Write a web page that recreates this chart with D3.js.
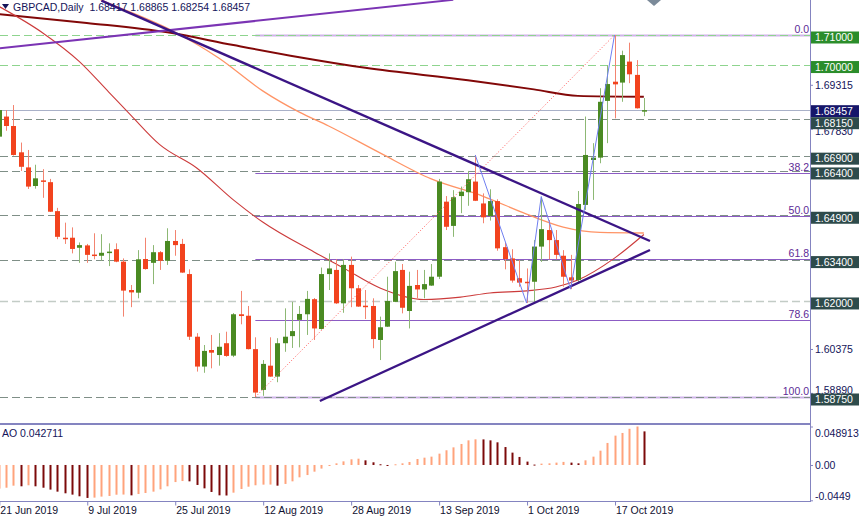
<!DOCTYPE html>
<html><head><meta charset="utf-8">
<script src="https://cdn.jsdelivr.net/npm/d3@7"></script>
<style>
html,body{margin:0;padding:0;background:#fff;}
svg{display:block;font-family:"Liberation Sans",Arial,sans-serif;}
</style></head>
<body><svg id="c" width="860" height="518"></svg>
<script>
// ---------------- DATA ----------------
const symbolTitle = "GBPCAD,Daily";
const firstDate = "2019-06-21", lastDate = "2019-10-23";
const open = [1.6756,1.6824,1.6792,1.6703,1.6652,1.6589,1.6608,1.6602,1.6504,1.6414,
 1.6414,1.6380,1.6388,1.6357,1.6353,1.6363,1.6375,1.6333,1.6237,1.6228,
 1.6342,1.6329,1.6365,1.6336,1.6403,1.6393,1.6291,1.6079,1.5978,1.6034,
 1.6017,1.6057,1.6015,1.6155,1.6150,1.6037,1.5899,1.5981,1.5944,1.6057,
 1.6081,1.6136,1.6155,1.6206,1.6105,1.6291,1.6305,1.6192,1.6322,1.6243,
 1.6184,1.6183,1.6068,1.6113,1.6197,1.6305,1.6166,1.6254,1.6239,1.6252,
 1.6282,1.6536,1.6454,1.6555,1.6568,1.6604,1.6530,1.6487,1.6538,1.6382,
 1.6344,1.6277,1.6265,1.6265,1.6384,1.6440,1.6406,1.6353,1.6280,1.6271,
 1.6525,1.6677,1.6685,1.6877,1.6942,1.6939,1.7010,1.6965,1.68417];
const high = [1.6860,1.6846,1.6863,1.6736,1.6711,1.6661,1.6646,1.6613,1.6515,1.6465,
 1.6449,1.6398,1.6393,1.6429,1.6426,1.6395,1.6395,1.6344,1.6254,1.6372,
 1.6414,1.6389,1.6369,1.6446,1.6440,1.6410,1.6307,1.6091,1.6051,1.6085,
 1.6091,1.6096,1.6159,1.6234,1.6183,1.6077,1.6000,1.6077,1.6074,1.6175,
 1.6197,1.6183,1.6234,1.6210,1.6313,1.6361,1.6341,1.6341,1.6350,1.6254,
 1.6237,1.6209,1.6147,1.6282,1.6333,1.6325,1.6299,1.6305,1.6305,1.6325,
 1.6613,1.6555,1.6575,1.6587,1.6640,1.6694,1.6564,1.6578,1.6544,1.6397,
 1.6375,1.6339,1.6310,1.6406,1.6553,1.6474,1.6440,1.6372,1.6356,1.6572,
 1.6824,1.6734,1.6920,1.6998,1.7100,1.7047,1.7074,1.7015,1.68865];
const low = [1.6748,1.6776,1.6692,1.6640,1.6579,1.6580,1.6549,1.6501,1.6409,1.6393,
 1.6361,1.6329,1.6329,1.6341,1.6336,1.6318,1.6331,1.6147,1.6179,1.6209,
 1.6306,1.6257,1.6305,1.6322,1.6353,1.6295,1.6068,1.5961,1.5957,1.5972,
 1.5981,1.6011,1.6010,1.6121,1.6036,1.5875,1.5879,1.5943,1.5925,1.6028,
 1.6041,1.6043,1.6085,1.6068,1.6103,1.6237,1.6190,1.6160,1.6179,1.6180,
 1.6139,1.6040,1.6000,1.6112,1.6196,1.6158,1.6107,1.6209,1.6209,1.6251,
 1.6274,1.6440,1.6417,1.6497,1.6522,1.6538,1.6463,1.6472,1.6370,1.6307,
 1.6262,1.6248,1.6193,1.6197,1.6332,1.6341,1.6341,1.6248,1.6240,1.6264,
 1.6508,1.6542,1.6666,1.6734,1.6818,1.6874,1.6937,1.6851,1.68254];
const close = [1.6846,1.6792,1.6694,1.6654,1.6587,1.6615,1.6604,1.6502,1.6417,1.6409,
 1.6376,1.6389,1.6356,1.6353,1.6363,1.6367,1.6333,1.6235,1.6229,1.6341,
 1.6308,1.6365,1.6336,1.6403,1.6389,1.6296,1.6079,1.5978,1.6031,1.6025,
 1.6045,1.6014,1.6155,1.6149,1.6037,1.5890,1.5987,1.5944,1.6057,1.6079,
 1.6098,1.6156,1.6207,1.6107,1.6291,1.6310,1.6192,1.6322,1.6243,1.6181,
 1.6180,1.6071,1.6111,1.6200,1.6301,1.6177,1.6251,1.6239,1.6257,1.6282,
 1.6604,1.6451,1.6551,1.6570,1.6612,1.6539,1.6483,1.6538,1.6378,1.6342,
 1.6269,1.6262,1.6260,1.6384,1.6443,1.6406,1.6356,1.6282,1.6269,1.6528,
 1.6694,1.6685,1.6874,1.6934,1.6933,1.7032,1.6967,1.6852,1.68457];
const ao = [-0.0300,-0.0289,-0.0263,-0.0271,-0.0258,-0.0271,-0.0289,-0.0313,-0.0339,-0.0360,
 -0.0377,-0.0398,-0.0419,-0.0415,-0.0402,-0.0394,-0.0378,-0.0376,-0.0386,-0.0369,
 -0.0356,-0.0339,-0.0310,-0.0271,-0.0217,-0.0204,-0.0208,-0.0254,-0.0297,-0.0343,
 -0.0386,-0.0388,-0.0352,-0.0305,-0.0276,-0.0258,-0.0250,-0.0249,-0.0263,-0.0241,
 -0.0208,-0.0157,-0.0128,-0.0085,-0.0046,-0.0013,0.0021,0.0046,0.0072,0.0080,
 0.0059,0.0034,0.0009,-0.0005,0.0009,0.0021,0.0038,0.0076,0.0093,0.0106,
 0.0144,0.0187,0.0224,0.0267,0.0313,0.0326,0.0325,0.0313,0.0288,0.0228,
 0.0157,0.0102,0.0043,0.0005,0.0017,0.0021,0.0030,0.0039,0.0030,0.0021,
 0.0059,0.0106,0.0182,0.0280,0.0373,0.0407,0.0460,0.048913,0.042711];
const aoName = "AO";
const dateTicks = ["2019-06-21","2019-07-09","2019-07-25","2019-08-12","2019-08-28","2019-09-13","2019-10-01","2019-10-17"];
const priceTicks = [1.69315,1.67830,1.60375,1.58890];
const aoTicks = [0.048913, 0.0, -0.0449];
const aoTickLabels = ["0.048913","0.00","-0.0449"];
const greenLevels = [1.71, 1.70];
const grayLevels = [1.6815, 1.669, 1.664, 1.649, 1.634, 1.5875];
const lightLevels = [1.62];
const fibHigh = 1.71, fibLow = 1.5875, fibStartBar = 35;
const fibRatios = [0, 38.2, 50, 61.8, 78.6, 100];
// moving averages, [bar index, price]
const maSlow = [[0,1.7171],[12,1.7141],[23,1.7109],[32,1.7066],[41,1.7025],[50,1.6989],[64,1.6947],[73,1.6916],[79,1.6894],[88,1.6891]];
const maMid = [[0,1.7377],[14,1.7218],[24,1.7110],[30,1.7022],[36,1.6911],[41,1.6839],[45,1.6792],[52,1.6701],[59,1.6613],[66,1.6555],[72,1.6494],[77,1.6450],[82,1.6432],[88,1.6430]];
const maFast = [[0,1.7197],[6,1.7107],[11,1.7010],[15,1.6907],[18,1.6829],[22,1.6728],[27,1.6650],[32,1.6542],[36,1.6467],[43,1.6366],[47,1.6312],[52,1.6244],[58,1.6205],[63,1.6213],[67,1.6227],[72,1.6234],[76,1.6247],[79,1.6271],[84,1.6345],[88,1.6425]];
// drawn objects, [bar index, price]
const trendRising = [[0,1.7055],[62,1.7219]];
const triangleUpper = [[14,1.72164],[88.84,1.64029]];
const triangleLower = [[43.8,1.58614],[88.84,1.63724]];
const fibDiagonal = [[35,1.5875],[84,1.71]];
const zigzag = [[65,1.6694],[72,1.6193],[74,1.6553],[78,1.6240],[84,1.71]];

// ---------------- SETUP ----------------
const plotR = 810, mainB = 423;
const svg = d3.select("#c");
const parse = d3.utcParse("%Y-%m-%d");
const dates = d3.utcDay.range(parse(firstDate), d3.utcDay.offset(parse(lastDate), 1))
  .filter(d => d.getUTCDay() !== 0 && d.getUTCDay() !== 6);
const key = d3.utcFormat("%Y-%m-%d");
const fmtDate = d3.utcFormat("%-d %b %Y");
const N = dates.length;
const idx = d3.range(N);

const x = d3.scaleLinear().domain([0, N - 1]).range([-1.2, -1.2 + 7.33 * (N - 1)]);
const y = d3.scaleLinear().domain([fibLow, fibHigh]).range([397, 35]);
const ya = d3.scaleLinear().domain([-0.0449, 0.048913]).range([500.3, 426.5]);
const cx = i => Math.round(x(i));

const defs = svg.append("defs");
defs.append("clipPath").attr("id", "cm").append("rect").attr("x", 0).attr("y", 0).attr("width", plotR).attr("height", mainB);
defs.append("clipPath").attr("id", "ca").append("rect").attr("x", 0).attr("y", 426).attr("width", plotR).attr("height", 75);

const main = svg.append("g").attr("clip-path", "url(#cm)");

const hl = (vals, color, dash, w) => main.append("g").selectAll("line").data(vals).join("line")
  .attr("x1", 0).attr("x2", plotR)
  .attr("y1", d => Math.round(y(d)) + 0.5).attr("y2", d => Math.round(y(d)) + 0.5)
  .attr("stroke", color).attr("stroke-width", w).attr("stroke-dasharray", dash);

// fib levels
const fibPrice = r => fibHigh - (fibHigh - fibLow) * r / 100;
main.append("g").selectAll("line").data(fibRatios).join("line")
  .attr("x1", x(fibStartBar)).attr("x2", plotR)
  .attr("y1", d => Math.round(y(fibPrice(d))) + 0.5).attr("y2", d => Math.round(y(fibPrice(d))) + 0.5)
  .attr("stroke", d => (d === 0 || d === 100) ? "#cfb4ea" : "#8c5cc4")
  .attr("stroke-width", d => (d === 0 || d === 100) ? 2 : 1.2);

hl(greenLevels, "#8ed48e", "8,4", 1.2);
hl(grayLevels, "#7f8f87", "8,4", 1.2);
hl(lightLevels, "#c3ccc6", "8,4", 1.4);
hl([close[N - 1]], "#a9b1c8", null, 1);

// moving averages
const ln = d3.line().x(d => x(d[0])).y(d => y(d[1])).curve(d3.curveMonotoneX);
main.append("path").datum(maSlow).attr("d", ln).attr("fill", "none").attr("stroke", "#820808").attr("stroke-width", 2);
main.append("path").datum(maMid).attr("d", ln).attr("fill", "none").attr("stroke", "#ff9466").attr("stroke-width", 1.3);
main.append("path").datum(maFast).attr("d", ln).attr("fill", "none").attr("stroke", "#cc3b3b").attr("stroke-width", 1.1);

// candles
const up = i => close[i] >= open[i];
const cg = main.append("g");
cg.selectAll("line").data(idx).join("line")
  .attr("x1", i => cx(i) + 0.5).attr("x2", i => cx(i) + 0.5)
  .attr("y1", i => y(high[i])).attr("y2", i => y(low[i]))
  .attr("stroke", i => up(i) ? "#8db874" : "#f38470").attr("stroke-width", 1);
cg.selectAll("rect").data(idx).join("rect")
  .attr("x", i => cx(i) - 2).attr("width", 5)
  .attr("y", i => y(Math.max(open[i], close[i])))
  .attr("height", i => Math.max(1.5, Math.abs(y(open[i]) - y(close[i]))))
  .attr("fill", i => up(i) ? "#4a8a22" : "#f2431e");

// objects
const lnS = d3.line().x(d => x(d[0])).y(d => y(d[1]));
main.append("path").datum(trendRising).attr("d", lnS).attr("stroke", "#7b34b4").attr("stroke-width", 2).attr("fill", "none");
main.append("path").datum(triangleUpper).attr("d", lnS).attr("stroke", "#3b1585").attr("stroke-width", 2.4).attr("fill", "none");
main.append("path").datum(triangleLower).attr("d", lnS).attr("stroke", "#3b1585").attr("stroke-width", 2.4).attr("fill", "none");
main.append("path").datum(fibDiagonal).attr("d", lnS).attr("stroke", "#ff5a5a").attr("stroke-width", 1).attr("stroke-dasharray", "1,2").attr("fill", "none");
main.append("path").datum(zigzag).attr("d", lnS).attr("stroke", "#6f7ff0").attr("stroke-width", 1).attr("fill", "none");

// fib labels
svg.append("g").selectAll("text").data(fibRatios).join("text")
  .attr("x", plotR - 1).attr("y", d => Math.round(y(fibPrice(d))) - 2)
  .attr("text-anchor", "end").attr("font-size", 10.5).attr("fill", "#5d2a96")
  .text(d => d3.format(".1f")(d));

// ---------------- AO panel ----------------
const aoG = svg.append("g").attr("clip-path", "url(#ca)");
aoG.selectAll("rect").data(idx).join("rect")
  .attr("x", i => cx(i) - 0.5).attr("width", 2)
  .attr("y", i => Math.min(ya(ao[i]), ya(0)))
  .attr("height", i => Math.max(1, Math.abs(ya(ao[i]) - ya(0))))
  .attr("fill", i => (i === 0 || ao[i] > ao[i - 1]) ? "#ffa37c" : "#7c0a0a");

// frames
const frame = "#8484c0";
svg.append("rect").attr("x", 0).attr("y", 423).attr("width", plotR).attr("height", 2).attr("fill", frame);
svg.append("line").attr("x1", 0).attr("x2", plotR + 1).attr("y1", 501.5).attr("y2", 501.5).attr("stroke", frame);
svg.append("line").attr("x1", plotR + 0.5).attr("x2", plotR + 0.5).attr("y1", 0).attr("y2", 502).attr("stroke", frame);

// axes
const txtCol = "#14145a";
const xAxis = d3.axisBottom(x)
  .tickValues(dateTicks.map(t => dates.findIndex(d => key(d) === t)))
  .tickFormat(i => fmtDate(dates[i])).tickSize(4).tickPadding(2);
const gx = svg.append("g").attr("transform", "translate(0,501.5)").call(xAxis);
gx.select(".domain").remove();
gx.selectAll(".tick line").attr("stroke", frame).attr("transform", "translate(0.5,0)");
gx.selectAll(".tick text").attr("text-anchor", "start").attr("dx", 1).attr("dy", "0.6em")
  .attr("font-size", 10.5).attr("font-family", "Liberation Sans").attr("fill", "#101030");

const yAxis = d3.axisRight(y).tickValues(priceTicks).tickFormat(d3.format(".5f")).tickSize(3).tickPadding(2);
const gy = svg.append("g").attr("transform", `translate(${plotR},0)`).call(yAxis);
gy.select(".domain").remove();
gy.selectAll(".tick line").attr("stroke", frame);
gy.selectAll(".tick text").attr("font-size", 10.5).attr("font-family", "Liberation Sans").attr("fill", txtCol)
  .attr("dy", (d, k) => k === 3 ? "0.1em" : (k === 1 ? "0.55em" : "0.32em"));

const aAxis = d3.axisRight(ya).tickValues(aoTicks).tickFormat((d, k) => aoTickLabels[k]).tickSize(3).tickPadding(2);
const ga = svg.append("g").attr("transform", `translate(${plotR},0)`).call(aAxis);
ga.select(".domain").remove();
ga.selectAll(".tick line").attr("stroke", frame);
ga.selectAll(".tick text").attr("font-size", 10.5).attr("font-family", "Liberation Sans").attr("fill", txtCol)
  .attr("dy", (d, k) => k === 0 ? "0.95em" : (k === 2 ? "-0.1em" : "0.32em"));

// price boxes
const boxes = [];
greenLevels.forEach(v => boxes.push({v, bg: "#2b8d2b"}));
boxes.push({v: close[N - 1], bg: "#16166a"});
grayLevels.concat(lightLevels).forEach(v => boxes.push({v, bg: "#2e4b4b"}));
boxes.forEach(b => b.cy = y(b.v) + 2.5);
boxes.sort((a, b) => a.cy - b.cy);
const bh = 12;
for (let it = 0; it < 30; it++) {
  for (let k = 1; k < boxes.length; k++) {
    const ov = bh - (boxes[k].cy - boxes[k - 1].cy);
    if (ov > 0) { boxes[k - 1].cy -= ov / 2; boxes[k].cy += ov / 2; }
  }
}
const bg = svg.append("g");
bg.selectAll("rect").data(boxes).join("rect")
  .attr("x", plotR + 1).attr("width", 48).attr("y", d => d.cy - bh / 2).attr("height", bh)
  .attr("fill", d => d.bg);
bg.selectAll("text").data(boxes).join("text")
  .attr("x", plotR + 5).attr("y", d => d.cy).attr("dy", "0.36em")
  .attr("font-size", 10.5).attr("fill", "#fff").text(d => d3.format(".5f")(d.v));

// title & labels
svg.append("text").attr("x", 13).attr("y", 11).attr("font-size", 10.5).attr("fill", txtCol)
  .style("white-space", "pre")
  .text(`${symbolTitle}  ${[open[N-1], high[N-1], low[N-1], close[N-1]].map(d3.format(".5f")).join(" ")}`);
svg.append("path").attr("d", "M2,4 L9,4 L5.5,9 Z").attr("fill", "#14145a");
svg.append("text").attr("x", 2).attr("y", 437).attr("font-size", 10.5).attr("fill", txtCol)
  .text(`${aoName} ${d3.format(".6f")(ao[N - 1])}`);
svg.append("path").attr("d", "M647,0 L661,0 L654,6 Z").attr("fill", "#7b8a99");
</script>
</body></html>
